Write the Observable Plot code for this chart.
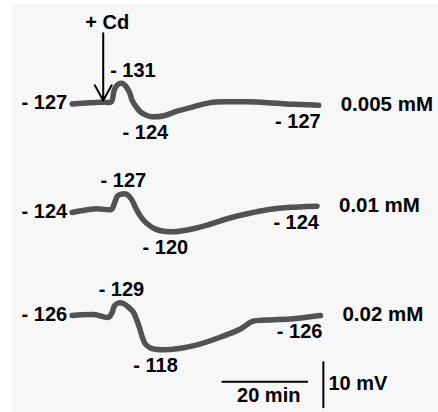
<!DOCTYPE html>
<html><head><meta charset="utf-8">
<script src="https://cdn.jsdelivr.net/npm/d3@7"></script>
<script src="https://cdn.jsdelivr.net/npm/@observablehq/plot@0.6"></script>
<style>
body{margin:0;background:#fff}
#chart svg{display:block;background:#f7f7f7;box-shadow:inset 12px 4px 0 0 #fff}
</style>
</head><body><div id="chart"></div>
<script>
// ---- data (time in min, membrane potential in mV) ----
const concentrations = ["0.005 mM", "0.01 mM", "0.02 mM"];
const time1 = [0, 6.7, 9.0, 9.4, 9.8, 10.2, 11.0, 12.0, 12.9, 13.6, 14.1, 15.1, 16.1, 17.2, 18.4, 21.6, 24.7, 28.6, 32.5, 36.5, 41.2, 45.9, 50.6, 53.7, 58.0];
const mv1   = [-126.9, -127.3, -127.3, -127.7, -129.7, -130.6, -131.4, -131.4, -130.5, -129.2, -127.7, -126.2, -125.1, -124.5, -124.1, -124.3, -125.3, -126.3, -127.2, -127.4, -127.4, -127.2, -126.9, -126.8, -126.6];
const time2 = [0, 3.5, 5.9, 9.0, 9.4, 10.0, 10.7, 11.8, 12.9, 13.9, 14.9, 16.1, 17.5, 19.6, 23.1, 27.1, 31.8, 36.5, 41.2, 45.9, 50.6, 57.6];
const mv2   = [-123.6, -124.2, -124.4, -124.2, -124.4, -125.8, -127.3, -127.7, -127.6, -126.6, -124.7, -122.7, -121.2, -119.9, -119.3, -119.7, -120.8, -122.2, -123.3, -124.2, -124.7, -125.0];
const time3 = [0, 5.1, 8.6, 9.4, 10.0, 11.0, 12.1, 13.3, 14.4, 15.1, 15.8, 16.5, 17.2, 18.4, 20.8, 24.7, 30.2, 34.9, 39.6, 42.4, 45.9, 52.1, 58.4];
const mv3   = [-126.0, -126.2, -125.6, -126.7, -128.2, -128.8, -128.6, -127.8, -126.7, -125.2, -123.4, -121.2, -119.7, -118.8, -118.4, -118.6, -119.7, -121.2, -123.0, -124.7, -125.0, -125.3, -126.0];
const startLabels  = [-127, -124, -126];
const peakLabels   = [-131, -127, -129];
const troughLabels = [-124, -120, -118];
const endLabels    = [-127, -124, -126];
const cdLabel = "+ Cd";
const cdTime = 7.3;               // min, Cd addition (trace 1)
const cdArrowMv = [-142.6, -127.7];
const scaleMin = 20, scaleMv = 10;
const scaleBarTime = 35.3, scaleBarMv = -111.3;      // in trace-3 frame
const scaleVTime = 59.1, scaleVMv = -115.6;

// ---- layout ----
const W = 438, H = 412;
const pxPerMin = 4.25, pxPerMv = 4.5, x0px = 71.7;
const rowOffset = [149.9, 170.7, 196];
const peakShiftPx = [14, 1, 2.5];
const font = "'Liberation Sans', Arial, sans-serif";
const fmt = v => "- " + Math.abs(v);

const traces = [[time1, mv1], [time2, mv2], [time3, mv3]];
const rows = traces.map(([ts, vs], i) => ts.map((t, j) => ({row: i, t, mv: vs[j], y: vs[j] + rowOffset[i]})));
const points = rows.flat();
const first = rows.map(r => r[0]);
const last = rows.map(r => r[r.length - 1]);
const peaks = rows.map(r => d3.least(r, d => d.mv));
const troughs = rows.map(r => d3.greatest(r, d => d.mv));

const txt = {fontFamily: font, fontWeight: "bold", fontSize: 20, fill: "#000"};
const off3 = rowOffset[2], off1 = rowOffset[0];

const chart = Plot.plot({
  width: W, height: H,
  marginTop: 0, marginRight: 0, marginBottom: 0, marginLeft: 0,
  x: {domain: [-x0px / pxPerMin, (W - x0px) / pxPerMin], axis: null},
  y: {domain: [H / pxPerMv, 0], axis: null},
  marks: [
    Plot.line(points, {x: "t", y: "y", z: "row", stroke: "#525252", strokeWidth: 5.5, curve: "catmull-rom", strokeLinecap: "round", strokeLinejoin: "round"}),
    // left resting potentials
    Plot.text(first, {x: "t", y: "y", text: (d, i) => fmt(startLabels[i]), textAnchor: "end", dx: -5, dy: -1, ...txt}),
    // peaks
    Plot.text(peaks, {x: d => d.t + peakShiftPx[d.row] / pxPerMin, y: "y", text: (d, i) => fmt(peakLabels[i]), textAnchor: "middle", dy: -13, ...txt}),
    // troughs
    Plot.text(troughs, {x: "t", y: "y", text: (d, i) => fmt(troughLabels[i]), textAnchor: "middle", dx: -5, dy: 16, ...txt}),
    // end
    Plot.text(last, {x: "t", y: "y", text: (d, i) => fmt(endLabels[i]), textAnchor: "end", dx: 2, dy: 16, ...txt}),
    // concentrations
    Plot.text(last, {x: "t", y: "y", text: (d, i) => concentrations[i], textAnchor: "start", dx: 22, dy: -1, ...txt, fontSize: 20.5}),
    // Cd arrow
    Plot.arrow([0], {x1: cdTime, x2: cdTime, y1: cdArrowMv[0] + off1, y2: cdArrowMv[1] + off1, stroke: "#000", strokeWidth: 2, headLength: 13, headAngle: 58}),
    Plot.text([cdLabel], {x: cdTime, y: cdArrowMv[0] + off1, text: d => d, textAnchor: "middle", dx: 4, dy: -11, ...txt}),
    // scale bars
    Plot.line([[scaleBarTime, scaleBarMv + off3], [scaleBarTime + scaleMin, scaleBarMv + off3]], {stroke: "#000", strokeWidth: 2}),
    Plot.text([scaleMin + " min"], {x: scaleBarTime + scaleMin / 2, y: scaleBarMv + off3, text: d => d, dx: 4, dy: 14, ...txt}),
    Plot.line([[scaleVTime, scaleVMv + off3], [scaleVTime, scaleVMv + scaleMv + off3]], {stroke: "#000", strokeWidth: 2}),
    Plot.text([scaleMv + " mV"], {x: scaleVTime, y: scaleVMv + scaleMv / 2 + off3, text: d => d, textAnchor: "start", dx: 5, dy: -1, ...txt})
  ]
});
document.getElementById("chart").append(chart);
</script>
</body></html>
